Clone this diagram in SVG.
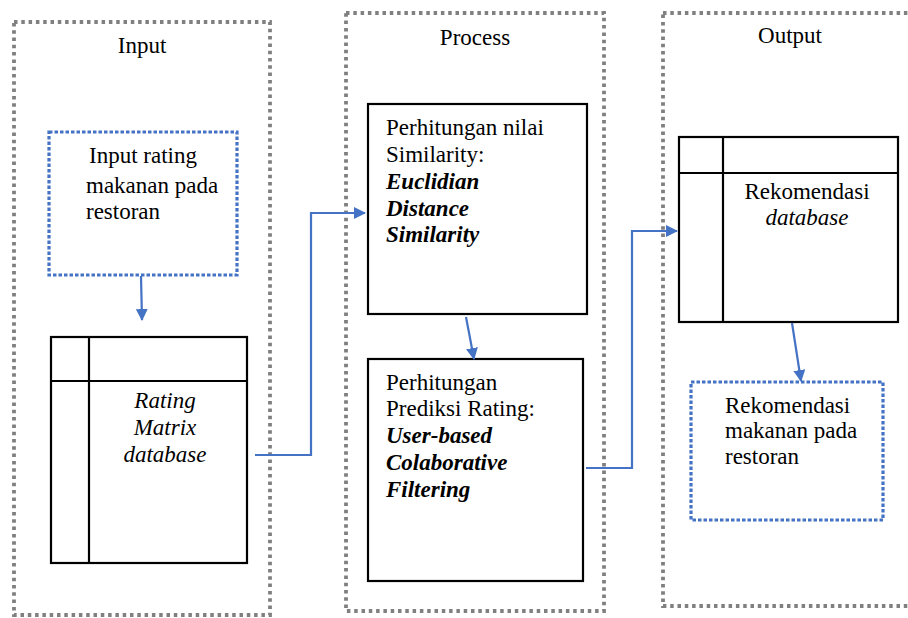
<svg xmlns="http://www.w3.org/2000/svg" width="908" height="618" viewBox="0 0 908 618">
<style>
.cont{fill:none;stroke:#808080;stroke-width:3.8;stroke-dasharray:3.5 3.8}
.blue{fill:none;stroke:#4472c4;stroke-width:3.2;stroke-dasharray:3.5 2}
.box{fill:#fff;stroke:#000;stroke-width:2.2}
.conn{fill:none;stroke:#4472c4;stroke-width:2.2}
.it{font-style:italic}
.bi{font-style:italic;font-weight:bold}
.c{text-anchor:middle}
</style>
<defs>
<marker id="ah" markerWidth="12" markerHeight="12" refX="11" refY="6" orient="auto" markerUnits="userSpaceOnUse">
<path d="M0,0 L12,6 L0,12 Z" fill="#4472c4"/>
</marker>
</defs>
<rect width="908" height="618" fill="#fff"/>
<g font-family="'Liberation Serif', 'DejaVu Serif', 'Times New Roman', serif" font-size="23" fill="#000">
<g id="input-group">
<rect class="cont" x="14" y="22" width="256" height="593"/>
<text class="c" x="142" y="53">Input</text>
</g>
<g id="process-group">
<rect class="cont" x="346" y="13" width="258" height="598"/>
<text class="c" x="475" y="45">Process</text>
</g>
<g id="output-group">
<rect class="cont" x="663" y="13" width="260" height="593"/>
<text class="c" x="790" y="43">Output</text>
</g>

<g id="input-rating">
<rect class="blue" x="49" y="132" width="188" height="143"/>
<text x="89" y="163">Input rating</text>
<text x="86" y="193">makanan pada</text>
<text x="86" y="219">restoran</text>
</g>

<g id="rating-matrix">
<rect class="box" x="51" y="337" width="196" height="226"/>
<line class="box" x1="89" y1="337" x2="89" y2="563"/>
<line class="box" x1="51" y1="381" x2="247" y2="381"/>
<text class="c it" x="165" y="408">Rating</text>
<text class="c it" x="165" y="435">Matrix</text>
<text class="c it" x="165" y="462">database</text>
</g>

<g id="similarity">
<rect class="box" x="368" y="104" width="219" height="210"/>
<text x="386" y="135">Perhitungan nilai</text>
<text x="386" y="162">Similarity:</text>
<text class="bi" x="386" y="189">Euclidian</text>
<text class="bi" x="386" y="216">Distance</text>
<text class="bi" x="386" y="242">Similarity</text>
</g>

<g id="prediksi">
<rect class="box" x="368" y="359" width="215" height="222"/>
<text x="386" y="390">Perhitungan</text>
<text x="386" y="416">Prediksi Rating:</text>
<text class="bi" x="386" y="443">User-based</text>
<text class="bi" x="386" y="470">Colaborative</text>
<text class="bi" x="386" y="497">Filtering</text>
</g>

<g id="rekomendasi-db">
<rect class="box" x="679" y="137" width="219" height="185"/>
<line class="box" x1="723" y1="137" x2="723" y2="322"/>
<line class="box" x1="679" y1="173" x2="898" y2="173"/>
<text class="c" x="807" y="199">Rekomendasi</text>
<text class="c it" x="807" y="225">database</text>
</g>

<g id="rekomendasi-makanan">
<rect class="blue" x="691" y="382" width="192" height="138"/>
<text x="725" y="413">Rekomendasi</text>
<text x="725" y="438">makanan pada</text>
<text x="725" y="464">restoran</text>
</g>
</g>
<g id="connectors">
<line class="conn" x1="141" y1="276" x2="142" y2="320" marker-end="url(#ah)"/>
<polyline class="conn" points="255,455 311,455 311,213 365,213" marker-end="url(#ah)"/>
<line class="conn" x1="466" y1="317" x2="474" y2="359" marker-end="url(#ah)"/>
<polyline class="conn" points="586,468 632,468 632,231 677,231" marker-end="url(#ah)"/>
<line class="conn" x1="792" y1="323" x2="801" y2="381" marker-end="url(#ah)"/>
</g>
</svg>
